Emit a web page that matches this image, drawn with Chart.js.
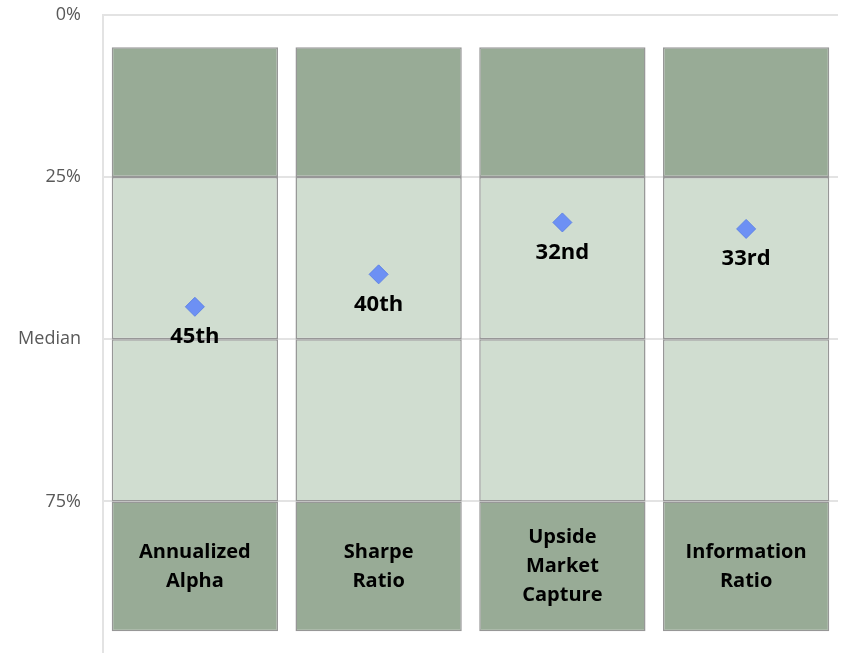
<!DOCTYPE html>
<html>
<head>
<meta charset="utf-8">
<script src="https://cdn.jsdelivr.net/npm/chart.js@4/dist/chart.umd.min.js"></script>
<style>
  html, body { margin: 0; padding: 0; background: #fff; overflow: hidden; }
  #wrap { width: 844px; height: 708px; margin-top: -18px; }
</style>
</head>
<body>
<div id="wrap"><canvas id="chart"></canvas></div>
<script>
// categories, one entry per metric (multi-line labels)
const categories = [
    ["Annualized", "Alpha"],
    ["Sharpe", "Ratio"],
    ["Upside", "Market", "Capture"],
    ["Information", "Ratio"]
];
// percentile rank of the fund for each metric
const rankings = [45, 40, 32, 33];
const rankLabels = ["45th", "40th", "32nd", "33rd"];
// quartile band edges (percentile)
const bandEdges = [5, 25, 50, 75, 95];
const tickValues = [0, 25, 50, 75];
const tickLabels = ["0%", "25%", "Median", "75%"];

const darkGreen = "#98ab96";
const lightGreen = "#d0ddd0";
const bandColors = [darkGreen, lightGreen, lightGreen, darkGreen];

const bandDatasets = bandColors.map((color, b) => ({
    type: "bar",
    data: categories.map(() => [bandEdges[b], bandEdges[b + 1]]),
    backgroundColor: color,
    borderColor: "#979797",
    borderWidth: 1.5,
    borderSkipped: false,
    grouped: false,
    categoryPercentage: 1,
    barPercentage: 0.905,
    order: 2
}));

// draws rank labels under markers and category names inside the bottom band
const labelPlugin = {
    id: "labelPlugin",
    afterDatasetsDraw(chart) {
        const ctx = chart.ctx;
        const x = chart.scales.x;
        const y = chart.scales.y;
        ctx.save();
        ctx.fillStyle = "#000";
        ctx.textAlign = "center";
        ctx.textBaseline = "middle";

        ctx.font = "bold 22px 'Open Sans', sans-serif";
        rankings.forEach((r, i) => {
            ctx.fillText(rankLabels[i], x.getPixelForValue(i), y.getPixelForValue(r) + 30);
        });

        ctx.font = "bold 20px 'Open Sans', sans-serif";
        const mid = y.getPixelForValue((bandEdges[3] + bandEdges[4]) / 2);
        const lineH = 29;
        categories.forEach((lines, i) => {
            const cx = x.getPixelForValue(i);
            const start = mid - (lines.length - 1) * lineH / 2;
            lines.forEach((line, j) => {
                ctx.fillText(line, cx, start + j * lineH);
            });
        });
        ctx.restore();
    }
};

const ctx = document.getElementById("chart").getContext("2d");
new Chart(ctx, {
    data: {
        labels: categories,
        datasets: [
            {
                type: "line",
                data: rankings,
                showLine: false,
                pointStyle: "rectRot",
                pointRadius: 9.5,
                pointBackgroundColor: "#6d90f4",
                pointBorderColor: "#5f84e6",
                pointBorderWidth: 1,
                order: 1
            },
            ...bandDatasets
        ]
    },
    options: {
        responsive: true,
        maintainAspectRatio: false,
        animation: false,
        layout: { padding: { top: 0, right: 6, bottom: 0, left: 0 }, autoPadding: false },
        plugins: {
            legend: { display: false },
            tooltip: { enabled: false }
        },
        scales: {
            x: {
                display: false,
                offset: true
            },
            y: {
                reverse: true,
                min: 0,
                max: 99,
                afterBuildTicks: (scale) => {
                    scale.ticks = tickValues.map(v => ({ value: v }));
                },
                afterFit: (scale) => { scale.width = 103; },
                ticks: {
                    padding: 22,
                    color: "#595959",
                    font: { family: "'Open Sans', sans-serif", size: 18 },
                    callback: (value) => tickLabels[tickValues.indexOf(value)]
                },
                grid: {
                    color: "#e3e3e3",
                    lineWidth: 2,
                    drawTicks: false
                },
                border: { color: "#e3e3e3", width: 2 }
            }
        }
    },
    plugins: [labelPlugin]
});
</script>
</body>
</html>
